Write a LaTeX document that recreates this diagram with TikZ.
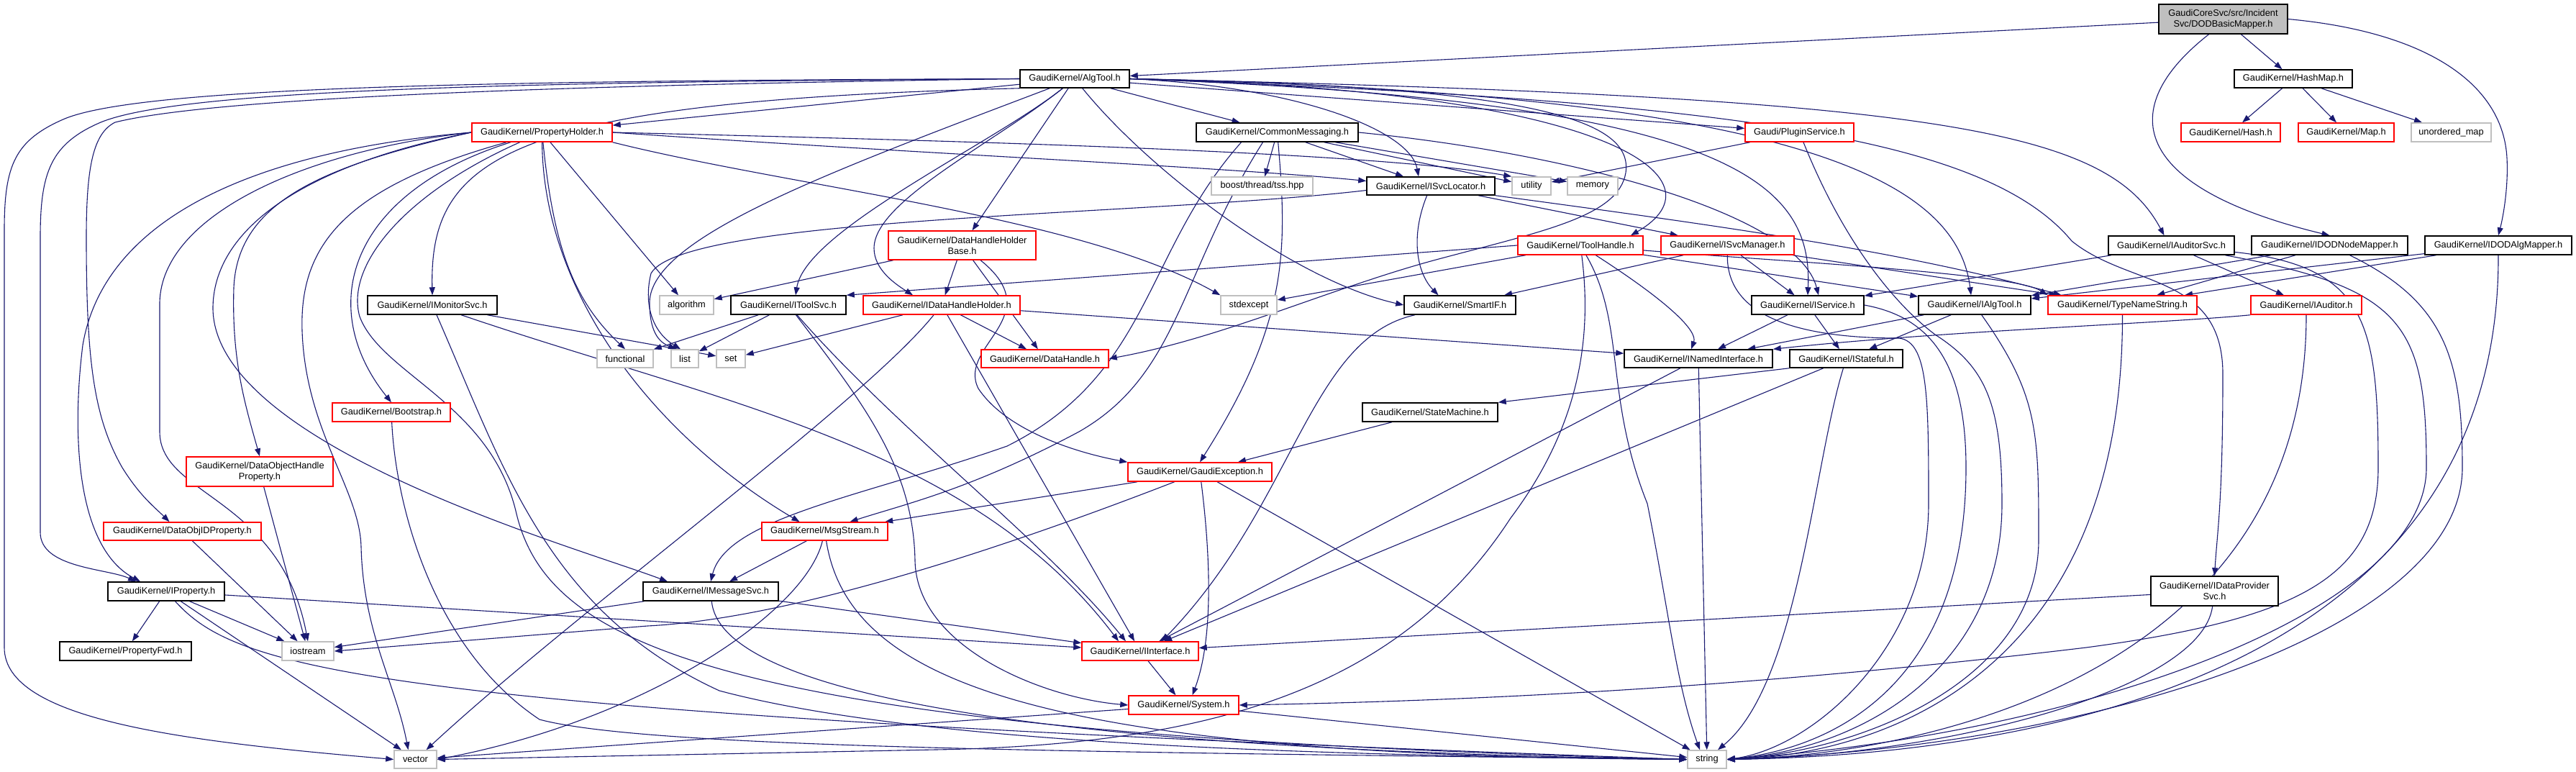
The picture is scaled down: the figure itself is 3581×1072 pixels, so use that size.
\documentclass[tikz,border=0pt]{standalone}
\usepackage{fontspec}
\setmainfont{Liberation Sans}
\usetikzlibrary{arrows.meta}
\definecolor{edgec}{HTML}{191970}
\definecolor{grayb}{HTML}{BFBFBF}
\pgfdeclarelayer{bg}
\pgfsetlayers{bg,main}
\tikzset{
 wh/.style n args={2}{minimum width=#1pt, minimum height=#2pt},
 box/.style={draw=black, line width=1.5pt, fill=white, inner sep=0pt, align=center, font=\fontsize{12.8}{15}\selectfont, text=black},
 redbox/.style={box, draw=red},
 graybox/.style={box, draw=grayb},
 e/.style={draw=edgec, line width=1.1pt, -{Triangle[length=11pt,width=8pt]}},
}
\begin{document}
\begin{tikzpicture}[x=1pt,y=-1pt]
\useasboundingbox (0,0) rectangle (3581,1072);
% nodes
\node[box,fill=grayb,wh={179}{41}] (dod) at (3090.5,26.5) {GaudiCoreSvc/src/Incident\\Svc/DODBasicMapper.h};
\node[box,wh={152}{25}] (algtool) at (1494,109.5) {GaudiKernel/AlgTool.h};
\node[box,wh={164}{25}] (hashmap) at (3188,109.5) {GaudiKernel/HashMap.h};
\node[redbox,wh={195}{26}] (propholder) at (753.5,184) {GaudiKernel/PropertyHolder.h};
\node[box,wh={225}{26}] (commsg) at (1775.5,184) {GaudiKernel/CommonMessaging.h};
\node[redbox,wh={151}{26}] (plugin) at (2501.5,184) {Gaudi/PluginService.h};
\node[redbox,wh={138}{26}] (hash) at (3101,184) {GaudiKernel/Hash.h};
\node[redbox,wh={133}{26}] (map) at (3261.5,184) {GaudiKernel/Map.h};
\node[graybox,wh={111}{26}] (umap) at (3407.5,184) {unordered\_map};
\node[graybox,wh={141}{25}] (tss) at (1754.5,258.5) {boost/thread/tss.hpp};
\node[box,wh={178}{25}] (isvcloc) at (1989,258.5) {GaudiKernel/ISvcLocator.h};
\node[graybox,wh={54}{25}] (utility) at (2129,258.5) {utility};
\node[graybox,wh={70}{25}] (memory) at (2214,258.5) {memory};
\node[redbox,wh={205}{40}] (dhhb) at (1337.5,341) {GaudiKernel/DataHandleHolder\\Base.h};
\node[redbox,wh={174}{26}] (toolhandle) at (2197,341) {GaudiKernel/ToolHandle.h};
\node[redbox,wh={185}{26}] (isvcmgr) at (2401.5,341) {GaudiKernel/ISvcManager.h};
\node[box,wh={175}{26}] (iauditorsvc) at (3018.5,341) {GaudiKernel/IAuditorSvc.h};
\node[box,wh={217}{26}] (idodnode) at (3238.5,341) {GaudiKernel/IDODNodeMapper.h};
\node[box,wh={204}{26}] (idodalg) at (3473,341) {GaudiKernel/IDODAlgMapper.h};
\node[box,wh={180}{26}] (imonitor) at (601,424) {GaudiKernel/IMonitorSvc.h};
\node[graybox,wh={75}{26}] (algorithm) at (954.5,424) {algorithm};
\node[box,wh={160}{26}] (itoolsvc) at (1096,424) {GaudiKernel/IToolSvc.h};
\node[redbox,wh={218}{26}] (idhh) at (1309,424) {GaudiKernel/IDataHandleHolder.h};
\node[graybox,wh={78}{26}] (stdexcept) at (1736,424) {stdexcept};
\node[box,wh={155}{26}] (smartif) at (2029.5,424) {GaudiKernel/SmartIF.h};
\node[box,wh={156}{26}] (iservice) at (2513,424) {GaudiKernel/IService.h};
\node[box,wh={156}{26}] (ialgtool) at (2745,424) {GaudiKernel/IAlgTool.h};
\node[redbox,wh={207}{26}] (typename) at (2950.5,424) {GaudiKernel/TypeNameString.h};
\node[redbox,wh={154}{26}] (iauditor) at (3206,424) {GaudiKernel/IAuditor.h};
\node[graybox,wh={78}{25}] (functional) at (869,498.5) {functional};
\node[graybox,wh={38}{25}] (list) at (952,498.5) {list};
\node[graybox,wh={40}{25}] (set) at (1016,498.5) {set};
\node[redbox,wh={177}{25}] (datahandle) at (1452.5,498.5) {GaudiKernel/DataHandle.h};
\node[box,wh={206}{25}] (inamed) at (2361,498.5) {GaudiKernel/INamedInterface.h};
\node[box,wh={157}{25}] (istateful) at (2566.5,498.5) {GaudiKernel/IStateful.h};
\node[redbox,wh={164}{26}] (bootstrap) at (544,573) {GaudiKernel/Bootstrap.h};
\node[box,wh={188}{26}] (statemachine) at (1988,573) {GaudiKernel/StateMachine.h};
\node[redbox,wh={204}{41}] (dohp) at (361,655.5) {GaudiKernel/DataObjectHandle\\Property.h};
\node[redbox,wh={200}{26}] (gaudiexc) at (1668,656) {GaudiKernel/GaudiException.h};
\node[redbox,wh={219}{25}] (dataobjid) at (253.5,738.5) {GaudiKernel/DataObjIDProperty.h};
\node[redbox,wh={175}{25}] (msgstream) at (1146.5,738.5) {GaudiKernel/MsgStream.h};
\node[box,wh={162}{26}] (iproperty) at (231,822) {GaudiKernel/IProperty.h};
\node[box,wh={188}{26}] (imessagesvc) at (988,822) {GaudiKernel/IMessageSvc.h};
\node[box,wh={177}{41}] (idataprov) at (3078.5,821.5) {GaudiKernel/IDataProvider\\Svc.h};
\node[box,wh={183}{26}] (propfwd) at (174.5,905) {GaudiKernel/PropertyFwd.h};
\node[graybox,wh={72}{26}] (iostream) at (428,905) {iostream};
\node[redbox,wh={162}{26}] (iinterface) at (1585,905) {GaudiKernel/IInterface.h};
\node[redbox,wh={153}{26}] (system) at (1645.5,980) {GaudiKernel/System.h};
\node[graybox,wh={59}{25}] (vector) at (577.5,1055.5) {vector};
\node[graybox,wh={54}{25}] (string) at (2373,1055.5) {string};

\begin{pgfonlayer}{bg}
\fill[white] (0,0) rectangle (3581,1072);
% DOD
\draw[e] (dod) -- (algtool);
\draw[e] (dod) -- (hashmap);
\draw[e] ([xshift=-20pt]dod.south) .. controls (2940,150) and (2960,260) .. (idodnode.north);
\draw[e] (dod.east) .. controls (3380,45) and (3480,120) .. (3485,220) .. controls (3487,260) and (3480,300) .. (idodalg.north);
% HashMap
\draw[e] (hashmap) -- (hash);
\draw[e] (hashmap) -- (map);
\draw[e] (hashmap) -- (umap);
% AlgTool
\draw[e] (algtool) -- (propholder);
\draw[e] (algtool) -- (commsg);
\draw[e] (algtool) -- (plugin);
\draw[e] (algtool) -- (dhhb);
\draw[e] (algtool.east) .. controls (1800,120) and (1960,180) .. ([xshift=-17pt]isvcloc.north);
\draw[e] (algtool.east) .. controls (2250,125) and (2400,250) .. ([xshift=70pt]toolhandle.north);
\draw[e] (algtool.east) .. controls (2700,135) and (2930,180) .. ([xshift=-10pt]iauditorsvc.north);
\draw[e] (algtool.east) .. controls (2400,140) and (2520,250) .. (iservice.north);
\draw[e] (algtool.east) .. controls (2500,130) and (2720,250) .. ([xshift=-5pt]ialgtool.north);
\draw[e] (algtool.east) .. controls (2400,140) and (2760,190) .. (2880,335) .. controls (2960,400) and (3090,380) .. (3090,520) .. controls (3090,700) and (3082,740) .. (idataprov.north);
\draw[e] (algtool.south west) .. controls (700,140) and (597,220) .. (imonitor.north);
\draw[e] (algtool) .. controls (1380,200) and (1120,320) .. ([xshift=10pt]itoolsvc.north);
\draw[e] (algtool) .. controls (1380,200) and (1215,280) .. (1215,345) .. controls (1215,375) and (1245,395) .. ([xshift=-40pt]idhh.north);
\draw[e] (algtool) .. controls (1150,240) and (905,330) .. (903,420) .. controls (903,460) and (915,475) .. ([xshift=-12pt]list.north);
\draw[e] (algtool.east) .. controls (2150,120) and (2270,170) .. (2260,240) .. controls (2250,300) and (2150,320) .. (2000,360) .. controls (1850,400) and (1700,470) .. (datahandle.east);
\draw[e] (algtool) .. controls (1600,240) and (1800,390) .. (smartif.west);
\draw[e] (algtool.west) .. controls (700,112) and (200,120) .. (90,165) .. controls (20,195) and (6,230) .. (6,320) -- (6,900) .. controls (6,1000) and (250,1030) .. (vector.west);
\draw[e] (algtool.west) .. controls (700,114) and (250,125) .. (140,170) .. controls (70,200) and (56,240) .. (56,330) -- (56,740) .. controls (56,790) and (150,790) .. ([xshift=-42pt]iproperty.north);
\draw[e] (algtool.west) .. controls (800,118) and (300,135) .. (160,170) .. controls (130,185) and (120,230) .. (120,330) .. controls (120,500) and (130,580) .. (170,650) .. controls (195,690) and (215,705) .. ([xshift=-18pt]dataobjid.north);
% PropertyHolder
\draw[e] (propholder.west) .. controls (300,215) and (140,330) .. (115,480) .. controls (100,600) and (105,760) .. ([xshift=-36pt]iproperty.north);
\draw[e] (propholder.west) .. controls (420,210) and (225,300) .. (222,420) -- (222,600) .. controls (222,690) and (390,690) .. (iostream.north);
\draw[e] (propholder.west) .. controls (420,230) and (295,320) .. (296,430) .. controls (300,620) and (800,760) .. ([xshift=-60pt]imessagesvc.north);
\draw[e] (propholder.west) .. controls (450,230) and (330,280) .. (325,400) .. controls (322,500) and (340,560) .. (dohp.north);
\draw[e] (propholder) .. controls (480,260) and (416,340) .. (420,460) .. controls (425,600) and (500,680) .. (502,760) .. controls (505,880) and (550,950) .. ([xshift=-10pt]vector.north);
\draw[e] (propholder) .. controls (480,270) and (440,430) .. (bootstrap.north);
\draw[e] (propholder) .. controls (560,270) and (480,370) .. (500,440) .. controls (530,520) and (680,560) .. (717,710) .. controls (760,900) and (1000,1020) .. (string.west);
\draw[e] (propholder) .. controls (755,400) and (900,600) .. ([xshift=-35pt]msgstream.north);
\draw[e] (propholder) .. controls (770,350) and (800,420) .. (functional.north);
\draw[e] (propholder) -- (algorithm);
\draw[e] (propholder.south east) .. controls (1100,260) and (1500,300) .. (stdexcept.north west);
\draw[e] (propholder.east) .. controls (1300,215) and (1700,232) .. ([yshift=7pt]isvcloc.west);
\draw[e] (propholder.east) .. controls (1300,195) and (1900,210) .. (utility.north west);
% CommonMessaging
\draw[e] (commsg) -- (tss);
\draw[e] (commsg) -- (isvcloc);
\draw[e] (commsg) -- (utility);
\draw[e] (commsg) -- (memory);
\draw[e] (commsg.east) .. controls (2200,215) and (2500,300) .. ([xshift=15pt]iservice.north);
\draw[e] ([xshift=-50pt]commsg.south) .. controls (1590,350) and (1600,520) .. (1400,620) .. controls (1200,690) and (1010,720) .. (imessagesvc.north);
\draw[e] ([xshift=-20pt]commsg.south) .. controls (1640,380) and (1640,520) .. (1500,600) .. controls (1350,680) and (1260,700) .. ([xshift=35pt]msgstream.north);
\draw[e] (commsg) .. controls (1790,350) and (1790,450) .. (gaudiexc.north);
% PluginService
\draw[e] (plugin) -- (utility);
\draw[e] (plugin) .. controls (2560,330) and (2630,420) .. (2690,465) .. controls (2760,510) and (2783,560) .. (2783,700) .. controls (2783,920) and (2600,1040) .. (string.east);
% ISvcLocator
\draw[e] (isvcloc) -- (isvcmgr);
\draw[e] (isvcloc) .. controls (1960,330) and (1970,380) .. ([xshift=-30pt]smartif.north);
\draw[e] ([yshift=-6pt]isvcloc.west) .. controls (1600,300) and (950,300) .. (905,380) .. controls (895,420) and (905,460) .. ([xshift=-6pt]list.north);
\draw[e] (isvcloc.south east) .. controls (2400,315) and (2650,350) .. ([xshift=-85pt]typename.north);
% ISvcManager
\draw[e] (isvcmgr) -- (smartif);
\draw[e] (isvcmgr) -- (iservice);
\draw[e] (isvcmgr) -- (typename);
\draw[e] (isvcmgr) .. controls (2400,440) and (2500,470) .. (2640,470) .. controls (2680,475) and (2681,550) .. (2681,700) .. controls (2681,900) and (2520,1040) .. (string.east);
% ToolHandle
\draw[e] (toolhandle.west) -- (itoolsvc.north east);
\draw[e] (toolhandle) -- (stdexcept);
\draw[e] (toolhandle) -- (ialgtool);
\draw[e] (toolhandle) .. controls (2500,365) and (2800,380) .. (typename.north west);
\draw[e] (toolhandle) .. controls (2320,420) and (2360,460) .. ([xshift=-10pt]inamed.north);
\draw[e] (toolhandle) .. controls (2215,480) and (2190,600) .. (2100,720) .. controls (1950,950) and (1700,1035) .. (1300,1042) -- (vector.east);
\draw[e] (toolhandle) .. controls (2260,450) and (2230,550) .. (2290,700) .. controls (2320,850) and (2330,950) .. ([xshift=-10pt]string.north);
% IAuditorSvc
\draw[e] (iauditorsvc) -- (iauditor);
\draw[e] (iauditorsvc) -- (iservice);
\draw[e] (iauditorsvc) .. controls (3290,370) and (3306,450) .. (3306,650) .. controls (3306,800) and (3200,860) .. (2900,900) .. controls (2400,960) and (2000,975) .. (system.east);
\draw[e] (iauditorsvc) .. controls (3340,400) and (3373,450) .. (3373,650) .. controls (3373,850) and (2900,1020) .. (string.east);
% IDODNodeMapper
\draw[e] (idodnode) -- (ialgtool);
\draw[e] (idodnode) -- (typename);
\draw[e] (idodnode) .. controls (3400,420) and (3423,500) .. (3423,650) .. controls (3423,880) and (2900,1040) .. (string.east);
% IDODAlgMapper
\draw[e] (idodalg) -- (ialgtool);
\draw[e] (idodalg) -- (typename);
\draw[e] (idodalg.south) .. controls (3475,950) and (2800,1050) .. (string.east);
% IMonitorSvc
\draw[e] (imonitor) -- (set);
\draw[e] (imonitor) .. controls (1000,560) and (1350,620) .. ([xshift=-30pt]iinterface.north);
\draw[e] (imonitor) .. controls (700,650) and (760,850) .. (1000,960) .. controls (1300,1040) and (1900,1050) .. (string.west);
% IToolSvc
\draw[e] (itoolsvc) -- (functional);
\draw[e] (itoolsvc) -- (list);
\draw[e] (itoolsvc) .. controls (1200,560) and (1270,650) .. (1272,780) .. controls (1275,900) and (1450,970) .. (system.west);
\draw[e] (itoolsvc) .. controls (1250,600) and (1450,750) .. ([xshift=-20pt]iinterface.north);
% IDataHandleHolder
\draw[e] (idhh) -- (set);
\draw[e] (idhh) -- (datahandle);
\draw[e] (idhh) .. controls (1200,560) and (800,850) .. ([xshift=15pt]vector.north);
\draw[e] (idhh) -- (inamed);
\draw[e] (idhh) -- (iinterface);
% DataHandleHolderBase
\draw[e] (dhhb) -- (algorithm);
\draw[e] (dhhb) -- (idhh);
\draw[e] (dhhb) -- (datahandle);
\draw[e] (dhhb) .. controls (1460,440) and (1330,480) .. (1360,540) .. controls (1400,600) and (1500,630) .. (gaudiexc.north west);
% GaudiException
\draw[e] (gaudiexc) -- (msgstream);
\draw[e] (gaudiexc) .. controls (1400,760) and (1100,860) .. (900,870) -- (iostream.east);
\draw[e] (gaudiexc) .. controls (1680,750) and (1690,880) .. ([xshift=12pt]system.north);
\draw[e] (gaudiexc) -- (string);
% StateMachine
\draw[e] (statemachine) -- (gaudiexc);
% MsgStream
\draw[e] (msgstream) -- (imessagesvc);
\draw[e] (msgstream) .. controls (1120,850) and (900,1000) .. (vector.east);
\draw[e] (msgstream) .. controls (1180,950) and (1450,1050) .. (string.west);
% IMessageSvc
\draw[e] (imessagesvc) -- (iostream);
\draw[e] (imessagesvc) -- (iinterface);
\draw[e] (imessagesvc) .. controls (1000,950) and (1350,1040) .. (string.west);
% IProperty
\draw[e] (iproperty) -- (propfwd);
\draw[e] (iproperty) -- (iostream);
\draw[e] (iproperty) -- (vector);
\draw[e] (iproperty) -- (iinterface);
\draw[e] (iproperty) .. controls (330,930) and (500,990) .. (string.west);
% DataObj
\draw[e] (dataobjid) -- (iostream);
\draw[e] (dohp) -- (iostream);
% Bootstrap
\draw[e] (bootstrap) .. controls (550,700) and (600,900) .. (750,1000) .. controls (900,1040) and (1500,1045) .. (string.west);
% IStateful
\draw[e] (istateful.south west) -- (statemachine.north east);
\draw[e] (istateful) -- (iinterface);
\draw[e] (istateful) .. controls (2520,650) and (2500,950) .. ([xshift=15pt]string.north);
% INamedInterface
\draw[e] (inamed) -- (iinterface);
\draw[e] (inamed) -- (string);
% IService
\draw[e] (iservice) -- (inamed);
\draw[e] (iservice) -- (istateful);
\draw[e] (iservice.east) .. controls (2680,440) and (2733,500) .. (2733,650) .. controls (2733,950) and (2550,1040) .. (string.east);
% IAlgTool
\draw[e] (ialgtool) -- (inamed);
\draw[e] (ialgtool) -- (istateful);
\draw[e] (ialgtool) .. controls (2834,550) and (2834,600) .. (2834,750) .. controls (2834,950) and (2580,1045) .. (string.east);
% TypeNameString
\draw[e] (typename.south) .. controls (2951,950) and (2600,1050) .. (string.east);
% IAuditor
\draw[e] (iauditor.south west) .. controls (3000,450) and (2700,460) .. (inamed.north east);
\draw[e] (iauditor.south) .. controls (3206,950) and (2650,1050) .. (string.east);
% IDataProviderSvc
\draw[e] (idataprov) -- (iinterface);
\draw[e] (idataprov) .. controls (3060,960) and (2700,1050) .. (string.east);
% System, IInterface, SmartIF
\draw[e] (system) -- (vector);
\draw[e] (system) -- (string);
\draw[e] (iinterface) -- (system);
\draw[e] (smartif) .. controls (1820,470) and (1800,700) .. ([xshift=30pt]iinterface.north);
\end{pgfonlayer}
\end{tikzpicture}
\end{document}
